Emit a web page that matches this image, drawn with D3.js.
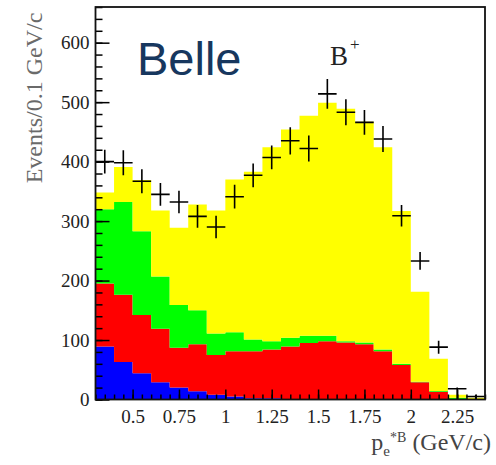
<!DOCTYPE html>
<html>
<head>
<meta charset="utf-8">
<script src="https://cdn.jsdelivr.net/npm/d3@7"></script>
<style>
  body { margin: 0; background: #fff; }
  svg { display: block; }
</style>
</head>
<body>
<svg id="chart" width="496" height="465"></svg>
<script>
// Lower edges of the 0.1 GeV/c bins in p_e*B
const binLow = [0.3, 0.4, 0.5, 0.6, 0.7, 0.8, 0.9, 1.0, 1.1, 1.2, 1.3,
                1.4, 1.5, 1.6, 1.7, 1.8, 1.9, 2.0, 2.1, 2.2, 2.3];
const binWidth = 0.1;

// Stacked MC components (events per bin), bottom to top
const blueVals   = [89, 63, 44, 29, 20, 14, 8, 5, 2, 2, 0, 0, 0, 0, 0, 0, 0, 0, 0, 0, 0];
const redVals    = [106, 113, 98, 90, 67, 79, 67, 76, 79, 82, 89, 95, 98, 96, 93, 81, 58, 29, 13, 0.5, 0];
const greenVals  = [125, 156, 141, 88, 72, 57, 36, 32, 20, 14, 15, 12, 9, 2, 3, 3, 2, 1, 1.5, 2.5, 1];
const yellowVals = [28, 59, 86, 111, 130, 178, 207, 257, 282, 326, 350, 370, 392, 391, 371, 340, 257, 151, 54, 5, 2];

// Data points with errors
const dataVals = [400, 398, 367, 345, 332, 308, 290, 341, 377, 407, 435, 422, 514, 483, 466, 438, 309, 233, 88, 18, 5];
const errUp    = [20, 21, 20, 19, 19, 19, 19, 20, 20, 20, 23, 22, 25, 22, 21, 22, 18, 15, 11, 2, 3];
const errDown  = [20, 21, 20, 19, 19, 19, 19, 20, 20, 20, 23, 22, 25, 22, 21, 22, 18, 15, 11, 18, 5];

// Axis ticks
const yMajorTicks = [0, 100, 200, 300, 400, 500, 600];
const xMajorTicks = [0.5, 0.75, 1, 1.25, 1.5, 1.75, 2, 2.25];

const layerKeys = ["blue", "red", "green", "yellow"];
const layerColors = { blue: "#0000ff", red: "#ff0000", green: "#00ff00", yellow: "#ffff00" };

const svg = d3.select("#chart");
const plot = { left: 95.5, right: 485, top: 7, bottom: 399.5 };

const x = d3.scaleLinear().domain([0.3, 2.4]).range([plot.left, plot.right]);
const y = d3.scaleLinear().domain([0, 660]).range([plot.bottom, plot.top]);

svg.append("defs").append("clipPath").attr("id", "plotClip")
  .append("rect")
  .attr("x", plot.left).attr("y", plot.top)
  .attr("width", plot.right - plot.left).attr("height", plot.bottom - plot.top);

// Build rows and stack
const rows = binLow.map((lo, i) => ({
  lo,
  blue: blueVals[i], red: redVals[i], green: greenVals[i], yellow: yellowVals[i]
}));
const stacked = d3.stack().keys(layerKeys)(rows);

const area = d3.area()
  .x(p => x(p.x))
  .y0(p => y(p.y0))
  .y1(p => y(p.y1));

const g = svg.append("g").attr("clip-path", "url(#plotClip)");

stacked.forEach(layer => {
  const pts = [];
  layer.forEach(d => {
    pts.push({ x: d.data.lo, y0: d[0], y1: d[1] });
    pts.push({ x: d.data.lo + binWidth, y0: d[0], y1: d[1] });
  });
  g.append("path")
    .attr("d", area(pts))
    .attr("fill", layerColors[layer.key])
    .attr("stroke", "none");
});

// Data crosses
const pts = g.append("g").attr("stroke", "#000").attr("stroke-width", 1.6).attr("fill", "none");
binLow.forEach((lo, i) => {
  const v = dataVals[i];
  const cx = x(lo + binWidth / 2);
  pts.append("line")
    .attr("x1", x(lo)).attr("x2", x(lo + binWidth))
    .attr("y1", y(v)).attr("y2", y(v));
  pts.append("line")
    .attr("x1", cx).attr("x2", cx)
    .attr("y1", y(v + errUp[i])).attr("y2", y(Math.max(0, v - errDown[i])));
});

// Axes
const tickFont = "'Liberation Serif', 'Times New Roman', serif";

const yMinor = d3.range(0, 661, 20);
svg.append("g")
  .attr("transform", `translate(${plot.left},0)`)
  .call(d3.axisLeft(y).tickValues(yMinor).tickSize(-7).tickFormat(""))
  .call(a => a.select(".domain").remove())
  .selectAll("line").attr("stroke", "#000").attr("stroke-width", 1.5);

svg.append("g")
  .attr("transform", `translate(${plot.left},0)`)
  .call(d3.axisLeft(y).tickValues(yMajorTicks).tickSize(-14).tickPadding(6).tickFormat(d3.format("d")))
  .call(a => a.select(".domain").remove())
  .call(a => a.selectAll("line").attr("stroke", "#000").attr("stroke-width", 1.5))
  .call(a => a.selectAll("text")
    .attr("font-family", tickFont).attr("font-size", 19).attr("fill", "#222"));

const xMinor = d3.range(0, 43).map(k => 0.3 + k * 0.05);
svg.append("g")
  .attr("transform", `translate(0,${plot.bottom})`)
  .call(d3.axisBottom(x).tickValues(xMinor).tickSize(-5).tickFormat(""))
  .call(a => a.select(".domain").remove())
  .selectAll("line").attr("stroke", "#000").attr("stroke-width", 1.5);

svg.append("g")
  .attr("transform", `translate(0,${plot.bottom})`)
  .call(d3.axisBottom(x).tickValues(xMajorTicks).tickSize(-10).tickPadding(10).tickFormat(d => String(d)))
  .call(a => a.select(".domain").remove())
  .call(a => a.selectAll("line").attr("stroke", "#000").attr("stroke-width", 1.5))
  .call(a => a.selectAll("text")
    .attr("font-family", tickFont).attr("font-size", 19).attr("fill", "#222"));

// Frame
svg.append("rect")
  .attr("x", plot.left).attr("y", plot.top)
  .attr("width", plot.right - plot.left).attr("height", plot.bottom - plot.top)
  .attr("fill", "none").attr("stroke", "#111").attr("stroke-width", 1.8);

// Axis titles
svg.append("text")
  .attr("transform", "translate(42,98) rotate(-90)")
  .attr("text-anchor", "middle")
  .attr("font-family", tickFont).attr("font-size", 24).attr("fill", "#6a6a6a")
  .text("Events/0.1 GeV/c");

const xt = svg.append("text")
  .attr("x", 491).attr("y", 450)
  .attr("text-anchor", "end")
  .attr("font-family", tickFont).attr("font-size", 24).attr("fill", "#444");
xt.append("tspan").text("p");
xt.append("tspan").attr("font-size", 15).attr("dy", 6).text("e");
xt.append("tspan").attr("font-size", 14).attr("dy", -14).text("*B");
xt.append("tspan").attr("dy", 8).text(" (GeV/c)");

// Labels inside the plot
svg.append("text")
  .attr("x", 137).attr("y", 75)
  .attr("font-family", "'Liberation Sans', Arial, sans-serif")
  .attr("font-size", 47).attr("fill", "#17375e")
  .text("Belle");

svg.append("text")
  .attr("x", 330).attr("y", 65)
  .attr("font-family", tickFont).attr("font-size", 27).attr("fill", "#222")
  .text("B");
svg.append("text")
  .attr("x", 350).attr("y", 50)
  .attr("font-family", tickFont).attr("font-size", 17).attr("fill", "#222")
  .text("+");
</script>
</body>
</html>
